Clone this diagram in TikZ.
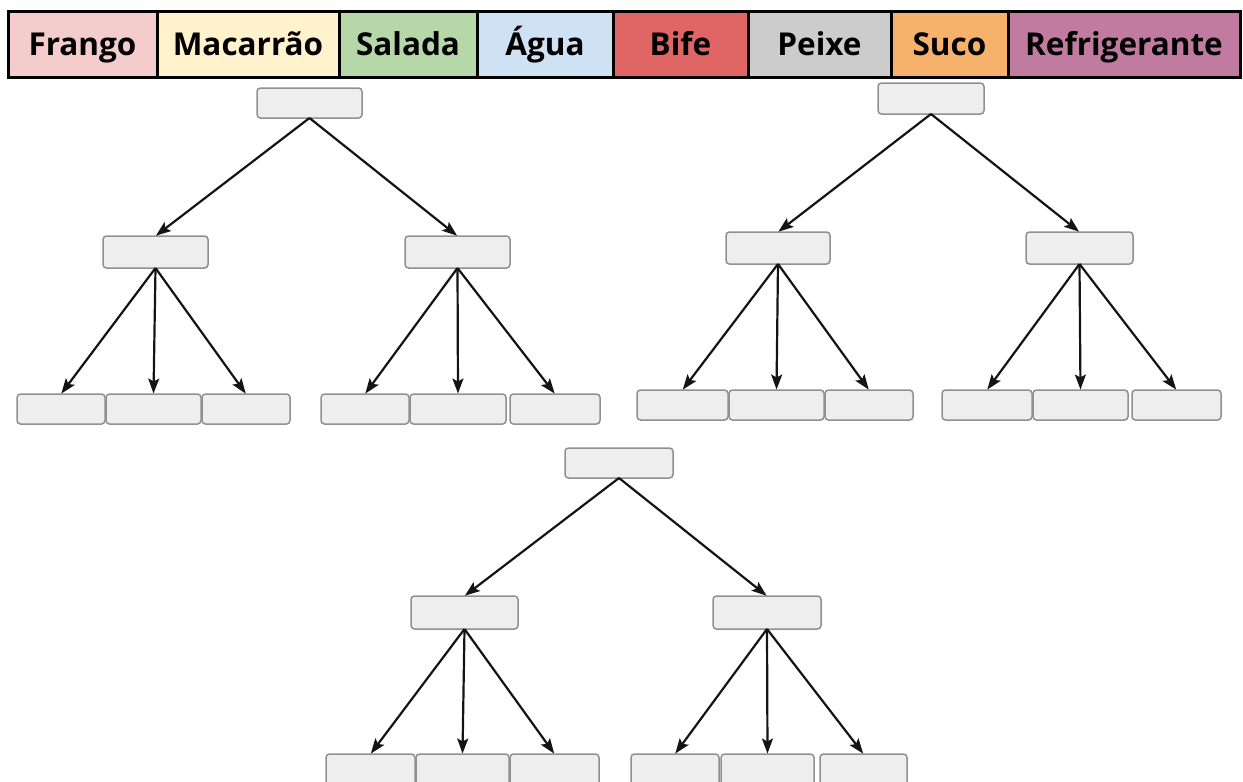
\documentclass[tikz,border=0pt]{standalone}
\usepackage{fontspec}
\setmainfont{Open Sans}
\usetikzlibrary{arrows.meta}
\definecolor{cFrango}{HTML}{F4CCCC}
\definecolor{cMacarrao}{HTML}{FFF2CC}
\definecolor{cSalada}{HTML}{B6D7A8}
\definecolor{cAgua}{HTML}{CFE2F3}
\definecolor{cBife}{HTML}{E06666}
\definecolor{cPeixe}{HTML}{CCCCCC}
\definecolor{cSuco}{HTML}{F6B26B}
\definecolor{cRefri}{HTML}{C27BA0}
\definecolor{boxfill}{HTML}{EEEEEE}
\definecolor{boxline}{HTML}{909090}
\definecolor{arrline}{HTML}{141414}
\tikzset{
  gbox/.style={draw=boxline, fill=boxfill, line width=1.5pt, rounded corners=3.5pt, inner sep=0pt, outer sep=0pt},
  hcell/.style={draw=black, line width=3pt, inner sep=0pt, outer sep=0pt, text height=27pt, text depth=4pt, font=\fontsize{31.5}{34}\selectfont\bfseries},
  arr/.style={draw=arrline, line width=2.2pt, -{Stealth[length=15pt,width=11pt,inset=3pt]}, shorten >=0.5pt}
}
% name, x1, y1, x2, y2
\newcommand\gb[5]{\node[gbox, minimum width={(#4-#2)*1pt}, minimum height={(#5-#3)*1pt}] (#1) at ({(#2+#4)/2},{(#3+#5)/2}) {};}
% name, x1, x2, colour, text
\newcommand\hc[5]{\node[hcell, fill=#4, minimum width={(#3-#2)*1pt}, minimum height={66pt}] (#1) at ({(#2+#3)/2},44) {#5};}
\begin{document}
\begin{tikzpicture}[x=1pt,y=-1pt]
\useasboundingbox (0,0) rectangle (1243,782);
\clip (0,0) rectangle (1243,782);
% header
\hc{h1}{8}{157}{cFrango}{Frango}
\hc{h2}{157}{339}{cMacarrao}{Macarrão}
\hc{h3}{339}{477}{cSalada}{Salada}
\hc{h4}{477}{613}{cAgua}{Água}
\hc{h5}{613}{748}{cBife}{Bife}
\hc{h6}{748}{891}{cPeixe}{Peixe}
\hc{h7}{891}{1008}{cSuco}{Suco}
\hc{h8}{1008}{1240}{cRefri}{Refrigerante}
% tree 1
\gb{r1}{257}{88}{362}{118}
\gb{a1}{103}{236}{208}{268}
\gb{b1}{405}{236}{510}{268}
\gb{a1x}{17}{394}{105}{424}
\gb{a1y}{106}{394}{201}{424}
\gb{a1z}{202}{394}{290}{424}
\gb{b1x}{321}{394}{409}{424}
\gb{b1y}{410}{394}{506}{424}
\gb{b1z}{510}{394}{600}{424}
% tree 2
\gb{r2}{878}{83}{984}{114}
\gb{a2}{726}{232}{830}{264}
\gb{b2}{1026}{232}{1133}{264}
\gb{a2x}{637}{390}{728}{420}
\gb{a2y}{729}{390}{824}{420}
\gb{a2z}{825}{390}{913}{420}
\gb{b2x}{942}{390}{1032}{420}
\gb{b2y}{1033}{390}{1128}{420}
\gb{b2z}{1132}{390}{1221}{420}
% tree 3
\gb{r3}{565}{448}{673}{478}
\gb{a3}{411}{596}{518}{629}
\gb{b3}{713}{596}{821}{629}
\gb{a3x}{326}{754}{415}{786}
\gb{a3y}{416}{754}{509}{786}
\gb{a3z}{510}{754}{599}{786}
\gb{b3x}{631}{754}{719}{786}
\gb{b3y}{721}{754}{814}{786}
\gb{b3z}{820}{754}{907}{786}
% arrows
\foreach \t in {1,2,3}{
  \draw[arr] (r\t.south) -- (a\t.north);
  \draw[arr] (r\t.south) -- (b\t.north);
  \foreach \p in {a,b}{
    \foreach \c in {x,y,z}{
      \draw[arr] (\p\t.south) -- (\p\t\c.north);
    }
  }
}
\end{tikzpicture}
\end{document}
